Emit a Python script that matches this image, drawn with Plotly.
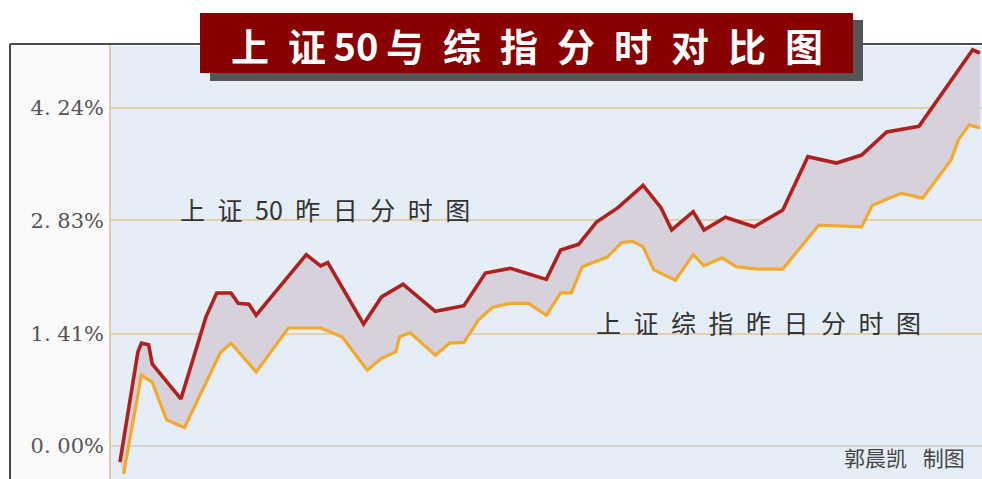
import plotly.graph_objects as go

# ---- data (minutes into session, % change) ----
sz50_t = [0, 5, 6, 8, 9, 17, 24, 27, 31, 33, 36, 38, 52, 56, 58, 68, 73, 79, 88, 96,
          102, 109, 119, 123, 128, 133, 139, 146, 151, 154, 160, 163, 169, 177, 185,
          192, 200, 207, 214, 223, 238, 240]
sz50_v = [-0.20, 1.18, 1.29, 1.27, 1.03, 0.59, 1.62, 1.92, 1.92, 1.79, 1.78, 1.64,
          2.40, 2.26, 2.30, 1.53, 1.87, 2.03, 1.69, 1.76, 2.17, 2.23, 2.09, 2.46, 2.53,
          2.81, 2.99, 3.27, 2.99, 2.71, 2.94, 2.71, 2.87, 2.75, 2.96, 3.63, 3.55, 3.65,
          3.94, 4.01, 4.97, 4.93]

comp_t = [1, 6, 9, 13, 18, 28, 31, 38, 47, 56, 62, 69, 73, 77, 78, 81, 88, 92, 96,
          100, 104, 109, 114, 119, 123, 126, 129, 136, 140, 143, 146, 149, 155, 160,
          163, 168, 172, 178, 185, 195, 207, 210, 218, 224, 232, 234, 237, 240]
comp_v = [-0.35, 0.89, 0.80, 0.33, 0.23, 1.17, 1.29, 0.93, 1.48, 1.48, 1.37, 0.95,
          1.10, 1.18, 1.37, 1.42, 1.14, 1.29, 1.30, 1.58, 1.74, 1.79, 1.79, 1.64, 1.92,
          1.92, 2.25, 2.37, 2.55, 2.57, 2.50, 2.21, 2.08, 2.40, 2.26, 2.36, 2.25, 2.22,
          2.22, 2.77, 2.75, 3.02, 3.17, 3.11, 3.59, 3.84, 4.03, 3.99]

tick_vals = [0.0, 1.41, 2.83, 4.24]
tick_text = ["0. 00%", "1. 41%", "2. 83%", "4. 24%"]

title_text = "上\u2002证\u200950\u2009与\u2002综\u2002指\u2002分\u2002时\u2002对\u2002比\u2002图"
label_50 = "上\u2002证\u200250\u2002昨\u2002日\u2002分\u2002时\u2002图"
label_comp = "上\u2002证\u2002综\u2002指\u2002昨\u2002日\u2002分\u2002时\u2002图"
credit = "郭晨凯\u2002\u2005制图"

W, H = 982, 479
RED = "#b0201e"
YEL = "#f3a92c"
FILL = "#d6d1da"
CJK = "Noto Sans CJK SC"


def px(x):
    return x / W


def py(y):
    return 1 - y / H


fig = go.Figure()
# fill band between the two series
fig.add_trace(go.Scatter(x=comp_t, y=comp_v, mode="lines", line=dict(width=0),
                         hoverinfo="skip", showlegend=False))
fig.add_trace(go.Scatter(x=sz50_t, y=sz50_v, mode="lines", line=dict(width=0),
                         fill="tonexty", fillcolor=FILL, hoverinfo="skip",
                         showlegend=False))
# lines
fig.add_trace(go.Scatter(x=comp_t, y=comp_v, mode="lines", name="上证综指",
                         line=dict(color=YEL, width=3.2), showlegend=False))
fig.add_trace(go.Scatter(x=sz50_t, y=sz50_v, mode="lines", name="上证50",
                         line=dict(color=RED, width=3.6), showlegend=False))

shapes = [
    # label column background
    dict(type="rect", xref="paper", yref="paper", x0=px(11), x1=px(110), y0=py(479), y1=py(45),
         fillcolor="#fafafa", line=dict(width=0), layer="below"),
    # frame
    dict(type="line", xref="paper", yref="paper", x0=px(10), x1=px(982), y0=py(44), y1=py(44),
         line=dict(color="#4a4a4a", width=2)),
    dict(type="line", xref="paper", yref="paper", x0=px(10), x1=px(10), y0=py(44), y1=py(479),
         line=dict(color="#4a4a4a", width=2)),
    # tan separator
    dict(type="line", xref="paper", yref="paper", x0=px(110), x1=px(110), y0=py(45), y1=py(479),
         line=dict(color="#e3cba9", width=2)),
    # title shadow and box
    dict(type="rect", xref="paper", yref="paper", x0=px(210), x1=px(863), y0=py(81), y1=py(20),
         fillcolor="#555555", line=dict(width=0)),
    dict(type="rect", xref="paper", yref="paper", x0=px(200), x1=px(853), y0=py(73), y1=py(13),
         fillcolor="#880000", line=dict(width=0)),
]

annotations = [
    dict(text=title_text, xref="paper", yref="paper", x=px(527), y=py(44),
         xanchor="center", yanchor="middle", showarrow=False,
         font=dict(family=CJK, size=38, color="#ffffff", weight="bold")),
    dict(text=label_50, xref="paper", yref="paper", x=px(178), y=py(209),
         xanchor="left", yanchor="middle", showarrow=False,
         font=dict(family=CJK, size=25, color="#333333")),
    dict(text=label_comp, xref="paper", yref="paper", x=px(594), y=py(322),
         xanchor="left", yanchor="middle", showarrow=False,
         font=dict(family=CJK, size=25, color="#333333")),
    dict(text=credit, xref="paper", yref="paper", x=px(967), y=py(457),
         xanchor="right", yanchor="middle", showarrow=False,
         font=dict(family=CJK, size=21, color="#444444")),
]

fig.update_layout(
    width=W, height=H, autosize=False,
    margin=dict(l=0, r=0, t=0, b=0),
    paper_bgcolor="#ffffff",
    plot_bgcolor="#e5eef6",
    shapes=shapes,
    annotations=annotations,
    showlegend=False,
    xaxis=dict(domain=[px(111), 1], range=[-2.5, 240.6], visible=False, fixedrange=True),
    yaxis=dict(domain=[0, py(46)], range=[-0.414, 5.018],
               tickvals=tick_vals, ticktext=tick_text,
               showgrid=True, gridcolor="#e6cfae", gridwidth=1.6,
               zeroline=True, zerolinecolor="#d4d4d4", zerolinewidth=2,
               showline=False, ticks="", ticklabelstandoff=6,
               tickfont=dict(family="DejaVu Serif", size=21, color="#555555"),
               fixedrange=True),
)

fig.write_html("out.html")
